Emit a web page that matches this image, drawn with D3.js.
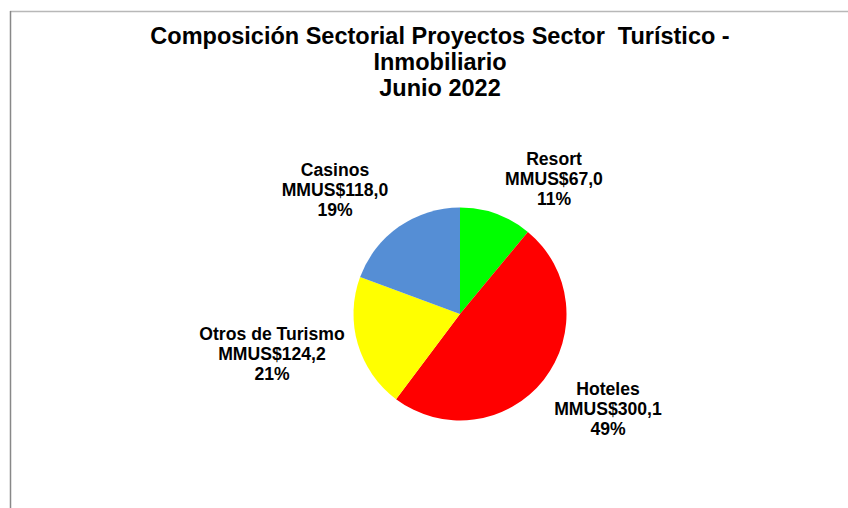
<!DOCTYPE html>
<html>
<head>
<meta charset="utf-8">
<script src="https://cdn.jsdelivr.net/npm/d3@7"></script>
<style>
html,body{margin:0;padding:0;background:#fff;}
svg{display:block;}
text{font-family:"Liberation Sans",Arial,sans-serif;font-weight:bold;fill:#000;}
</style>
</head>
<body>
<svg id="chart" width="848" height="508"></svg>
<script>
const titleLines = ["Composición Sectorial Proyectos Sector  Turístico -", "Inmobiliario", "Junio 2022"];
const categories = ["Resort", "Hoteles", "Otros de Turismo", "Casinos"];
const values = [67.0, 300.1, 124.2, 118.0];
const valueLabels = ["MMUS$67,0", "MMUS$300,1", "MMUS$124,2", "MMUS$118,0"];
const percentLabels = ["11%", "49%", "21%", "19%"];
const colors = ["#00FF00", "#FF0000", "#FFFF00", "#558ED5"];

const svg = d3.select("#chart");
const W = 848, H = 508;

// chart frame
svg.append("line").attr("x1", 10).attr("y1", 11.5).attr("x2", W).attr("y2", 11.5)
  .attr("stroke", "#b8b8b8").attr("stroke-width", 1.5);
svg.append("line").attr("x1", 10.5).attr("y1", 11).attr("x2", 10.5).attr("y2", H)
  .attr("stroke", "#888").attr("stroke-width", 1.5);

// title
const title = svg.append("text").attr("text-anchor", "middle").attr("font-size", 23.5)
  .style("white-space", "pre");
titleLines.forEach((t, i) => {
  title.append("tspan").attr("x", 440).attr("y", 44 + i * 26).text(t);
});

// pie
const cx = 460, cy = 314, r = 106.5;
const data = categories.map((c, i) => ({name: c, value: values[i], vl: valueLabels[i], pl: percentLabels[i], color: colors[i]}));
const pie = d3.pie().sort(null).value(d => d.value);
const arc = d3.arc().innerRadius(0).outerRadius(r);
const g = svg.append("g").attr("transform", `translate(${cx},${cy})`);
const arcs = pie(data);
g.selectAll("path").data(arcs).join("path")
  .attr("d", arc).attr("fill", d => d.data.color);

// label layout (middle line position relative to pie centre)
const labelPos = {"Resort": [94, -129], "Hoteles": [148, 101], "Otros de Turismo": [-188, 46], "Casinos": [-125, -118]};
const lab = svg.append("g").attr("transform", `translate(${cx},${cy})`);
arcs.forEach(a => {
  const [x, y] = labelPos[a.data.name];
  const t = lab.append("text").attr("text-anchor", "middle").attr("font-size", 17.6);
  [a.data.name, a.data.vl, a.data.pl].forEach((s, i) => {
    t.append("tspan").attr("x", x).attr("y", y - 20 + i * 20).text(s);
  });
});
</script>
</body>
</html>
